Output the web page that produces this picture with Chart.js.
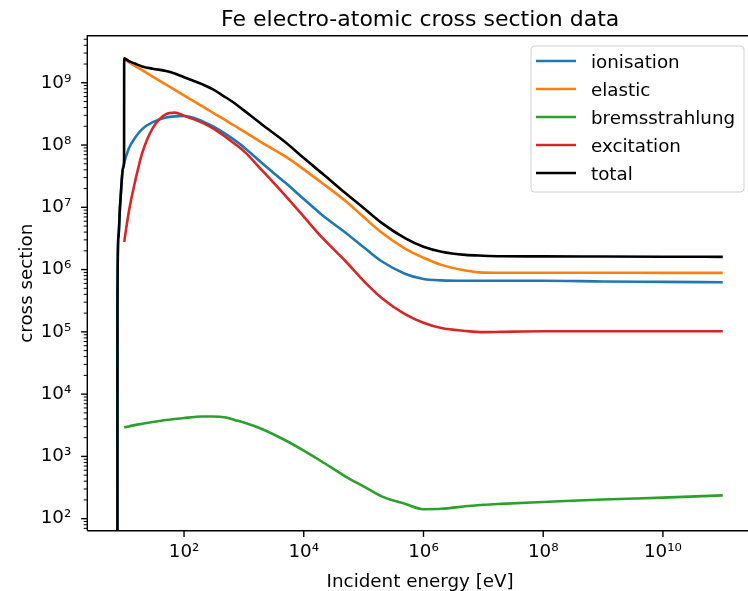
<!DOCTYPE html>
<html><head><meta charset="utf-8">
<script src="https://cdn.jsdelivr.net/npm/chart.js@4.4.1/dist/chart.umd.min.js"></script>
<style>html,body{margin:0;padding:0;overflow:hidden;background:#fff;width:748px;height:591px}canvas{display:block}</style>
</head><body><canvas id="c" width="760" height="591"></canvas>
<script>
const titleText = 'Fe electro-atomic cross section data';
const xTitle = 'Incident energy [eV]';
const yTitle = 'cross section';
const seriesNames = ['ionisation', 'elastic', 'bremsstrahlung', 'excitation', 'total'];
const seriesColors = ['#1f77b4', '#ff7f0e', '#2ca02c', '#d62728', '#000000'];
const xTickValues = [1e2, 1e4, 1e6, 1e8, 1e10];
const yTickValues = [1e2, 1e3, 1e4, 1e5, 1e6, 1e7, 1e8, 1e9];

const energies = [7.70, 7.72, 8.0, 8.5, 9.0, 9.5, 9.95, 10, 12, 15, 20, 30, 50, 70, 100, 150, 200, 300, 500, 700,
  1e3, 2e3, 5e3, 1e4, 2e4, 5e4, 1e5, 2e5, 5e5, 1e6, 2e6, 5e6, 1e7, 2e7, 1e8, 1e9, 1e10, 1e11];
const ionisation = [1e-3, 2.5e5, 3.3e6, 1.0e7, 2.3e7, 4.2e7, 5.1e7, 5.2e7, 8.9e7, 1.29e8, 1.80e8, 2.33e8, 2.76e8, 2.89e8, 2.92e8, 2.70e8, 2.42e8, 2.01e8, 1.50e8, 1.20e8,
  9.25e7, 5.13e7, 2.45e7, 1.36e7, 7.6e6, 3.9e6, 2.29e6, 1.36e6, 8.5e5, 7.08e5, 6.7e5, 6.6e5, 6.6e5, 6.6e5, 6.6e5, 6.45e5, 6.35e5, 6.25e5];
const elastic = [null, null, null, null, null, null, null, 2.38e9, 2.14e9, 1.875e9, 1.59e9, 1.26e9, 9.35e8, 7.71e8, 6.27e8, 4.97e8, 4.21e8, 3.33e8, 2.48e8, 2.04e8,
  1.66e8, 1.09e8, 6.5e7, 4.07e7, 2.48e7, 1.26e7, 6.97e6, 3.93e6, 2.15e6, 1.55e6, 1.19e6, 9.66e5, 8.95e5, 8.9e5, 8.9e5, 8.9e5, 8.87e5, 8.85e5];
const bremsstrahlung = [null, null, null, null, null, null, null, 2.92e3, 3.03e3, 3.18e3, 3.34e3, 3.57e3, 3.85e3, 3.99e3, 4.13e3, 4.30e3, 4.38e3, 4.38e3, 4.22e3, 3.85e3,
  3.51e3, 2.76e3, 1.80e3, 1.24e3, 828, 475, 330, 228, 172, 142, 144, 158, 167, 173, 185, 203, 218, 237];
const excitation = [null, null, null, null, null, null, null, 2.78e6, 8.65e6, 2.44e7, 7.41e7, 1.87e8, 3.14e8, 3.32e8, 2.97e8, 2.56e8, 2.29e8, 1.87e8, 1.34e8, 1.05e8,
  7.98e7, 3.94e7, 1.51e7, 7.08e6, 3.31e6, 1.36e6, 6.6e5, 3.51e5, 1.91e5, 1.40e5, 1.15e5, 1.035e5, 9.9e4, 1.0e5, 1.02e5, 1.02e5, 1.02e5, 1.02e5];
const total = [1e-3, 2.5e5, 3.3e6, 1.0e7, 2.3e7, 4.2e7, 5.1e7, 2.47e9, 2.23e9, 2.04e9, 1.83e9, 1.68e9, 1.55e9, 1.41e9, 1.23e9, 1.06e9, 9.5e8, 7.9e8, 5.8e8, 4.7e8,
  3.6e8, 2.14e8, 1.10e8, 6.17e7, 3.55e7, 1.68e7, 9.77e6, 5.62e6, 3.16e6, 2.32e6, 1.93e6, 1.72e6, 1.67e6, 1.64e6, 1.63e6, 1.62e6, 1.61e6, 1.60e6];

const seriesValues = [ionisation, elastic, bremsstrahlung, excitation, total];
const FONT = 'DejaVu Sans';
const BASE = 18.3;
const SUP = {'0':'⁰','1':'¹','2':'²','3':'³','4':'⁴','5':'⁵','6':'⁶','7':'⁷','8':'⁸','9':'⁹'};
function powLabel(v) {
  const e = Math.round(Math.log10(v));
  return '10' + String(e).split('').map(c => SUP[c]).join('');
}
function toPoints(vals) {
  const pts = [];
  vals.forEach((v, i) => { if (v !== null) pts.push({x: energies[i], y: v}); });
  return pts;
}

const datasets = seriesNames.map((name, i) => ({
  label: name,
  data: toPoints(seriesValues[i]),
  borderColor: seriesColors[i],
  backgroundColor: seriesColors[i],
  borderWidth: 2.6,
  pointRadius: 0,
  fill: false,
  cubicInterpolationMode: 'monotone',
  order: seriesNames.length - 1 - i
}));

const decor = {
  id: 'decor',
  afterDraw(chart) {
    const ctx = chart.ctx, a = chart.chartArea;
    const xs = chart.scales.x, ys = chart.scales.y;
    ctx.save();
    ctx.strokeStyle = '#000'; ctx.lineWidth = 1.4; ctx.lineCap = 'butt';
    ctx.beginPath();
    ctx.moveTo(a.left, a.bottom); ctx.lineTo(a.left, a.top); ctx.lineTo(a.right, a.top);
    ctx.moveTo(a.left, a.bottom); ctx.lineTo(a.right, a.bottom);
    ctx.stroke();
    xTickValues.forEach(v => {
      const p = xs.getPixelForValue(v);
      ctx.beginPath(); ctx.moveTo(p, a.bottom); ctx.lineTo(p, a.bottom + 6.2); ctx.stroke();
    });
    for (let d = 1; d <= 10; d++) {
      for (let m = 1; m <= 9; m++) {
        const v = m * Math.pow(10, d);
        if (v < ys.min || v > ys.max) continue;
        const p = ys.getPixelForValue(v);
        ctx.lineWidth = m === 1 ? 1.4 : 1.0;
        const len = m === 1 ? 6.2 : 3.6;
        ctx.beginPath(); ctx.moveTo(a.left - len, p); ctx.lineTo(a.left, p); ctx.stroke();
      }
    }
    ctx.fillStyle = '#000';
    ctx.textAlign = 'center'; ctx.textBaseline = 'alphabetic';
    ctx.font = '22px "' + FONT + '"';
    const cx = (a.left + a.right) / 2;
    ctx.fillText(titleText, cx, 25.5);
    ctx.font = BASE + 'px "' + FONT + '"';
    ctx.fillText(xTitle, cx, 586.5);
    ctx.save();
    ctx.translate(31.5, (a.top + a.bottom) / 2);
    ctx.rotate(-Math.PI / 2);
    ctx.fillText(yTitle, 0, 0);
    ctx.restore();
    const bx = a.right - 222, by = a.top + 10.3, bw = 213, bh = 146, r = 3.5;
    ctx.beginPath();
    ctx.moveTo(bx + r, by); ctx.lineTo(bx + bw - r, by); ctx.quadraticCurveTo(bx + bw, by, bx + bw, by + r);
    ctx.lineTo(bx + bw, by + bh - r); ctx.quadraticCurveTo(bx + bw, by + bh, bx + bw - r, by + bh);
    ctx.lineTo(bx + r, by + bh); ctx.quadraticCurveTo(bx, by + bh, bx, by + bh - r);
    ctx.lineTo(bx, by + r); ctx.quadraticCurveTo(bx, by, bx + r, by);
    ctx.closePath();
    ctx.fillStyle = 'rgba(255,255,255,0.8)'; ctx.fill();
    ctx.strokeStyle = '#d0d0d0'; ctx.lineWidth = 1; ctx.stroke();
    ctx.textAlign = 'left';
    chart.data.datasets.forEach((ds, i) => {
      const ry = by + 15 + i * 28;
      ctx.strokeStyle = ds.borderColor; ctx.lineWidth = 2.6;
      ctx.beginPath(); ctx.moveTo(bx + 5, ry); ctx.lineTo(bx + 45, ry); ctx.stroke();
      ctx.fillStyle = '#000';
      ctx.fillText(ds.label, bx + 60, ry + 7);
    });
    ctx.restore();
  }
};

new Chart(document.getElementById('c'), {
  type: 'line',
  data: { datasets },
  options: {
    responsive: false,
    animation: false,
    devicePixelRatio: 1,
    layout: { padding: { left: 0, top: 35.7, right: 7, bottom: 0 } },
    plugins: { legend: { display: false }, title: { display: false }, tooltip: { enabled: false } },
    scales: {
      x: {
        type: 'logarithmic',
        min: 2.42, max: 3.2e11,
        grid: { display: false, drawTicks: false },
        border: { display: false },
        afterBuildTicks: s => { s.ticks = xTickValues.map(v => ({ value: v })); },
        afterFit: s => { s.height = 60.3; },
        ticks: { autoSkip: false, maxRotation: 0, padding: 11, color: '#000',
          font: { family: FONT, size: BASE }, callback: v => powLabel(v) }
      },
      y: {
        type: 'logarithmic',
        min: 64.1, max: 5.7e9,
        grid: { display: false, drawTicks: false },
        border: { display: false },
        afterBuildTicks: s => { s.ticks = yTickValues.map(v => ({ value: v })); },
        afterFit: s => { s.width = 87.3; },
        ticks: { autoSkip: false, padding: 16, color: '#000',
          font: { family: FONT, size: BASE }, callback: v => powLabel(v) }
      }
    }
  },
  plugins: [decor]
});
</script></body></html>
